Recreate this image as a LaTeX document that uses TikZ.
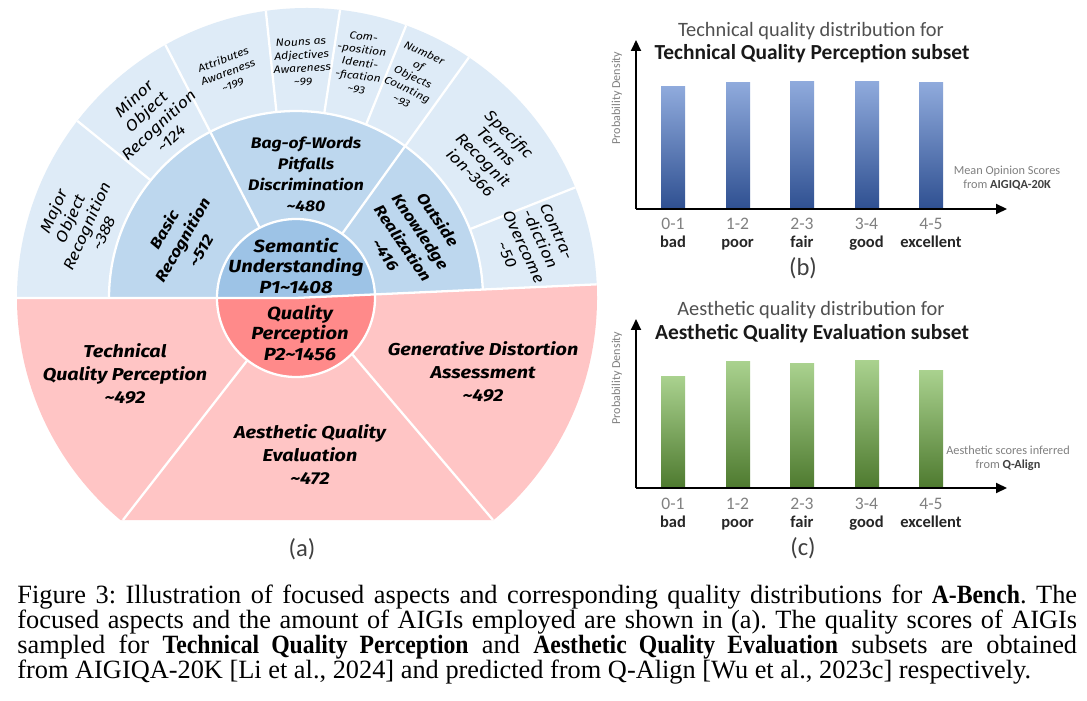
\documentclass[tikz,border=0pt]{standalone}
\usepackage{fontspec}
\setmainfont{Liberation Serif}[BoldFeatures={FakeStretch=0.9}]
\newfontfamily\hand{Fira Sans}[FakeStretch=1.15]
\newfontfamily\chartfont{Carlito}
\usetikzlibrary{arrows.meta,calc}
\newcommand{\tild}{\textasciitilde}
\definecolor{outerB}{HTML}{DEEBF7}
\definecolor{midB}{HTML}{BDD7EE}
\definecolor{innerB}{HTML}{9DC3E6}
\definecolor{outerR}{HTML}{FFC5C5}
\definecolor{innerR}{HTML}{FF8A8A}
\definecolor{barBtop}{HTML}{8FAADC}
\definecolor{barBmid}{HTML}{4A78CC}
\definecolor{barBbot}{HTML}{2F5091}
\definecolor{barGtop}{HTML}{A9D18E}
\definecolor{barGmid}{HTML}{74B04A}
\definecolor{barGbot}{HTML}{4E7A2F}
\definecolor{txtgray}{HTML}{808080}
\definecolor{ttlgray}{HTML}{505050}
\definecolor{capgray}{HTML}{404040}
\begin{document}
\begin{tikzpicture}[x=0.02cm,y=0.02cm,
  sep/.style={white,line width=1.3pt},
  smallL/.style={align=center,font=\hand\itshape\fontsize{6}{7.6}\selectfont,inner sep=0},
  medL/.style={align=center,font=\hand\itshape\fontsize{8.8}{10.4}\selectfont,inner sep=0},
  ringL/.style={align=center,font=\hand\bfseries\itshape\fontsize{8.7}{12}\selectfont,inner sep=0},
  coreL/.style={align=center,font=\hand\bfseries\itshape\fontsize{10}{11.9}\selectfont,inner sep=0},
  redL/.style={align=center,font=\hand\bfseries\itshape\fontsize{9.8}{13}\selectfont,inner sep=0},
  subL/.style={font=\chartfont\fontsize{14}{16}\selectfont,text=capgray,inner sep=0},
  ttlA/.style={font=\chartfont\fontsize{11.6}{13}\selectfont,text=ttlgray,inner sep=0},
  ttlB/.style={font=\chartfont\bfseries\fontsize{12.2}{14}\selectfont,text=black!90,inner sep=0},
  rngL/.style={anchor=base,font=\chartfont\fontsize{10}{12}\selectfont,text=txtgray,inner sep=0},
  wordL/.style={anchor=base,font=\chartfont\bfseries\fontsize{9.4}{11}\selectfont,text=black!85,inner sep=0},
  axL/.style={font=\chartfont\fontsize{6.9}{8}\selectfont,text=txtgray,inner sep=0},
  noteL/.style={align=center,font=\chartfont\fontsize{7}{7.8}\selectfont,text=txtgray,inner sep=0},
  axis/.style={line width=1.1pt,-{Triangle[length=0.22cm,width=0.2cm]}},
  barB/.style={top color=barBtop,middle color=barBmid,bottom color=barBbot},
  barG/.style={top color=barGtop,middle color=barGmid,bottom color=barGbot}
]
\useasboundingbox (0,0) rectangle (1087,700);
\fill[white] (0,0) rectangle (1087,700);

% ---------------- sunburst ----------------
\coordinate (Ci) at (296,402);
\coordinate (Co) at (307,402);
\coordinate (Bd) at ($(Ci)+(2.6:340)$);

\begin{scope}
  \clip (Ci) -- (Bd) -- (720,720) -- (-10,720) -- (-10,402) -- cycle;
  \fill[outerB] (Co) circle[radius=290];
  \fill[midB] (Ci) circle[radius=187];
  \draw[sep] (Ci) circle[radius=187];
  \fill[innerB] (Ci) circle[radius=79];
\end{scope}
\begin{scope}
  \clip (Ci) -- (Bd) -- (720,180) -- (-10,180) -- (-10,402) -- cycle;
  \fill[outerR] (Co) circle[radius=290];
  \fill[innerR] (Ci) circle[radius=79];
\end{scope}
\draw[sep] (Ci) circle[radius=79];
\begin{scope}
  \clip (Co) circle[radius=290];
  \draw[sep] (-10,402) -- (Ci) -- (Bd);
  \foreach \a in {141,117.3,96,81.3,68,54.3,21.6}
    \draw[sep] ($(Ci)+(\a:187)$) -- ($(Ci)+(\a:330)$);
\end{scope}
\foreach \a in {117.3,54.3}
  \draw[sep] ($(Ci)+(\a:79)$) -- ($(Ci)+(\a:187)$);
\coordinate (L1) at ($(Ci)+(-128:79)$);
\coordinate (R1) at ($(Ci)+(-45:79)$);
\coordinate (L2) at (123,180);
\coordinate (R2) at (493,180);
\draw[sep] (L1) -- (L2);
\draw[sep] (R1) -- (R2);

\node[medL,rotate=66] (major) at (78,478) {Major\\Object\\Recognition\\\tild388};
\node[medL,rotate=43] (minor) at (152,582) {Minor\\Object\\Recognition\\\tild124};
\node[smallL,rotate=21] (attr) at (228,628) {Attributes\\Awareness\\\tild199};
\node[smallL,rotate=3] (nouns) at (302,638) {Nouns as\\Adjectives\\Awareness\\\tild99};
\node[smallL,rotate=-8] (comp) at (360,637) {Com-\\-position\\Identi-\\-fication\\\tild93};
\node[smallL,rotate=-25] (count) at (413,623) {Number\\of\\Objects\\Counting\\\tild93};
\node[medL,rotate=-45] (spec) at (490,547) {Specific\\Terms\\Recognit\\ion\tild366};
\node[medL,rotate=-65] (contra) at (532,457) {Contra-\\-diction\\Overcome\\\tild50};
\node[ringL,rotate=60] (basic) at (182,460) {Basic\\Recognition\\\tild512};
\node[ringL] (bag) at (306,526) {Bag-of-Words\\Pitfalls\\Discrimination\\\tild480};
\node[ringL,rotate=-56] (outside) at (412,463) {Outside\\Knowledge\\Realization\\\tild416};
\node[coreL] (sem) at (296,434) {Semantic\\Understanding\\P1\tild1408};
\node[coreL] (qual) at (300,367) {Quality\\Perception\\P2\tild1456};
\node[redL] (tech) at (125,326) {Technical\\Quality Perception\\\tild492};
\node[redL] (aes) at (310,245) {Aesthetic Quality\\Evaluation\\\tild472};
\node[redL] (gen) at (483,328) {Generative Distortion\\Assessment\\\tild492};
\node[subL] (suba) at (302,151) {(a)};

% ---------------- chart (b) ----------------
\coordinate (Ob) at (636,491);
\coordinate (Yb) at (636,660);
\coordinate (Xb) at (1007,491);
\foreach \xa/\tp in {661/613,726/617,790/618,855/618,919/617}
  \shade[barB] (\xa,491) rectangle ({\xa+24},\tp);
\draw[axis] (Ob) -- (Yb);
\draw[axis] (Ob) -- (Xb);
\node[ttlA] (tb1) at (811,669) {Technical quality distribution for};
\node[ttlB] (tb2) at (812,646) {Technical Quality Perception subset};
\node[axL,rotate=90] (pdb) at (617,602) {Probability Density};
\node[noteL] (nb) at (1007,522) {Mean Opinion Scores\\from \textbf{\textcolor{capgray}{AIGIQA-20K}}};
\node[subL] (subb) at (803,432) {(b)};

% ---------------- chart (c) ----------------
\coordinate (Oc) at (636,212);
\coordinate (Yc) at (636,381);
\coordinate (Xc) at (1007,212);
\foreach \xa/\tp in {661/323,726/338,790/336,855/339,919/329}
  \shade[barG] (\xa,212) rectangle ({\xa+24},\tp);
\draw[axis] (Oc) -- (Yc);
\draw[axis] (Oc) -- (Xc);
\node[ttlA] (tc1) at (811,390) {Aesthetic quality distribution for};
\node[ttlB] (tc2) at (812,366) {Aesthetic Quality Evaluation subset};
\node[axL,rotate=90] (pdc) at (617,322) {Probability Density};
\node[noteL] (nc) at (1008,242) {Aesthetic scores inferred\\from \textbf{\textcolor{capgray}{Q-Align}}};
\node[subL] (subc) at (803,152) {(c)};

\foreach \cx/\rng/\word [count=\i] in {673/0-1/bad,737.5/1-2/poor,802/2-3/fair,866.5/3-4/good,931/4-5/excellent}{
  \node[rngL] (rb\i) at (\cx,470) {\rng};
  \node[wordL] (wb\i) at (\cx,452) {\word};
  \node[rngL] (rc\i) at (\cx,191) {\rng};
  \node[wordL] (wc\i) at (\cx,173) {\word};
}

% ---------------- caption ----------------
\node[anchor=north west,inner sep=0,font=\fontsize{15}{15}\selectfont] (cap) at (17,115) {\vbox{\frenchspacing\baselineskip=0.5cm
\hbox to 21.2cm{Figure 3: Illustration of focused aspects and corresponding quality distributions for \textbf{A-Bench}. The}
\hbox to 21.2cm{focused aspects and the amount of AIGIs employed are shown in (a). The quality scores of AIGIs}
\hbox to 21.2cm{sampled for \textbf{Technical Quality Perception} and \textbf{Aesthetic Quality Evaluation} subsets are obtained}
\hbox{from AIGIQA-20K [Li et al., 2024] and predicted from Q-Align [Wu et al., 2023c] respectively.}}};
\end{tikzpicture}
\end{document}
